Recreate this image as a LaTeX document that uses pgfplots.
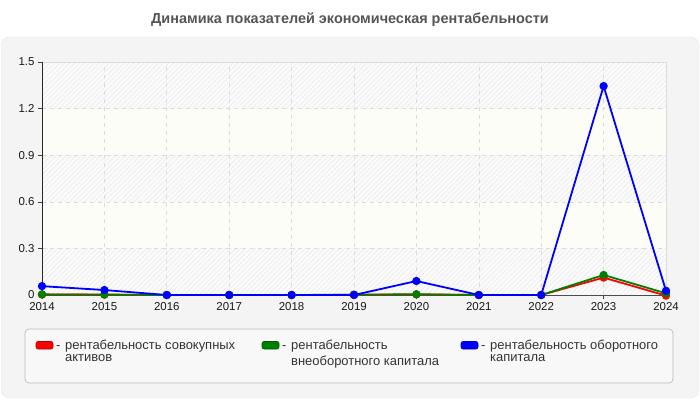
\documentclass[border=0pt]{standalone}
\usepackage{pgfplots}
\pgfplotsset{compat=1.18}
\usepackage{fontspec}
\setmainfont{Liberation Sans}
\usetikzlibrary{patterns.meta}

\definecolor{panel}{HTML}{F4F4F4}
\definecolor{panelborder}{HTML}{E4E4E4}
\definecolor{cream}{HTML}{FDFDF7}
\definecolor{hatchbg}{HTML}{FBFBFB}
\definecolor{hatch}{HTML}{E8E8E8}
\definecolor{gridc}{HTML}{DCDCDC}
\definecolor{legbg}{HTML}{F8F8F8}
\definecolor{legborder}{HTML}{BBBBBB}
\definecolor{txt}{HTML}{333333}
\definecolor{titlec}{HTML}{555555}
\definecolor{cred}{HTML}{FF0000}
\definecolor{cgreen}{HTML}{008000}
\definecolor{cblue}{HTML}{0000FF}

\newcommand\legfont{\fontsize{13}{14}\selectfont}

\begin{document}
\begin{tikzpicture}[x=1bp,y=1bp]
\path[use as bounding box] (0,0) rectangle (700,400);
% panel
\fill[panel, draw=panelborder, rounded corners=8bp] (1.5,2) rectangle (698.5,363);
\node[font=\bfseries\fontsize{14.5}{15}\selectfont, text=titlec] at (350,380) {Динамика показателей экономическая рентабельности};
% plot area bands
\fill[cream] (42,105) rectangle (666,338);
\foreach \lo/\hi in {105/151.6, 198.2/244.8, 291.4/338} {
  \fill[hatchbg] (42,\lo) rectangle (666,\hi);
  \fill[pattern={Lines[angle=45,distance=3.5bp,line width=0.5bp]}, pattern color=hatch] (42,\lo) rectangle (666,\hi);
}

\begin{axis}[
  at={(42bp,105bp)}, anchor=south west,
  scale only axis, width=624bp, height=233bp,
  xmin=2014, xmax=2024, ymin=0, ymax=1.5,
  xtick={2014,2015,...,2024},
  ytick={0,0.3,0.6,0.9,1.2,1.5},
  /pgf/number format/assume math mode=true,
  /pgf/number format/1000 sep={},
  ticklabel style={font=\fontsize{11.5}{12}\selectfont, text=black!90},
  tick align=outside, tick pos=left,
  major tick length=4bp,
  tick style={black!75, line width=0.6bp},
  axis line style={gridc, line width=0.8bp},
  grid=major,
  major grid style={gridc, dash pattern=on 4bp off 4bp, line width=0.6bp},
  clip=false,
]
\draw[black!85, line width=0.8bp] (rel axis cs:0,0) -- (rel axis cs:0,1);
\draw[black!70, line width=0.8bp] (rel axis cs:0,0) -- (rel axis cs:1,0);
\addplot[cred, line width=1.8bp, mark=*, mark size=3.2bp] coordinates {
  (2014,0.003) (2015,0.002) (2016,0) (2017,0) (2018,0) (2019,0.001)
  (2020,0.004) (2021,0) (2022,0) (2023,0.112) (2024,-0.004)};
\addplot[cgreen, line width=1.8bp, mark=*, mark size=3.2bp] coordinates {
  (2014,0.004) (2015,0.003) (2016,0) (2017,0) (2018,0) (2019,0.002)
  (2020,0.005) (2021,0) (2022,0) (2023,0.129) (2024,0.011)};
\addplot[cblue, line width=1.8bp, mark=*, mark size=3.2bp] coordinates {
  (2014,0.057) (2015,0.032) (2016,0) (2017,0) (2018,0) (2019,0)
  (2020,0.09) (2021,0) (2022,0) (2023,1.345) (2024,0.027)};
\end{axis}

% legend
\filldraw[fill=legbg, draw=legborder, line width=0.7bp, rounded corners=4bp] (25,17) rectangle (673,71);
\begin{scope}[every node/.style={anchor=base west, inner sep=0pt, text=txt, font=\legfont}]
\filldraw[fill=cred, draw=cred!70!black, line width=0.6bp, rounded corners=2bp] (36,51) rectangle (53,58.5);
\node at (56,51) {-};
\node at (65,51) {рентабельность совокупных};
\node at (65,39) {активов};
\filldraw[fill=cgreen, draw=cgreen!70!black, line width=0.6bp, rounded corners=2bp] (262,51) rectangle (279,58.5);
\node at (282,51) {-};
\node at (291,51) {рентабельность};
\node at (291,34.5) {внеоборотного капитала};
\filldraw[fill=cblue, draw=cblue!70!black, line width=0.6bp, rounded corners=2bp] (461,51) rectangle (478,58.5);
\node at (481,51) {-};
\node at (490,51) {рентабельность оборотного};
\node at (490,39) {капитала};
\end{scope}
\end{tikzpicture}
\end{document}
